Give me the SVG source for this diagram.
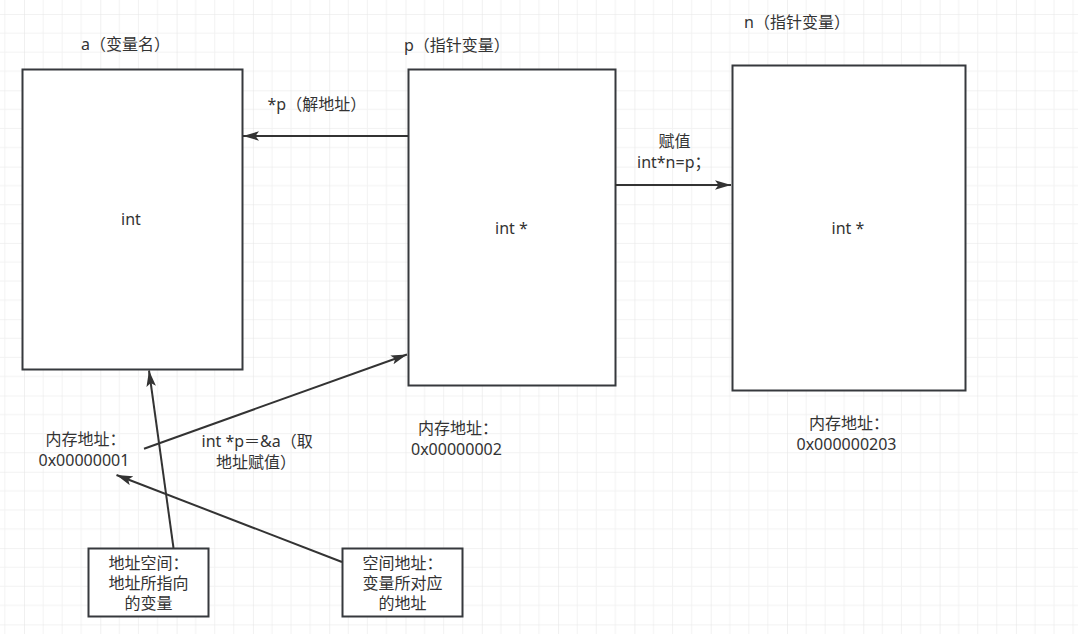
<svg xmlns="http://www.w3.org/2000/svg" width="1078" height="634" viewBox="0 0 1078 634">
  <style>
    .box { fill: #ffffff; stroke: #36393d; stroke-width: 2; }
    .edge { fill: none; stroke: #333333; stroke-width: 2; }
    text { font-family: "Noto Sans", "Noto Sans CJK SC", sans-serif; font-size: 16px; fill: #333333; }
    .c { text-anchor: middle; }
  </style>
  <defs>
    <pattern id="grid" patternUnits="userSpaceOnUse" x="24" y="14" width="76.3" height="76.3">
      <path d="M19.075 0V76.3M38.15 0V76.3M57.225 0V76.3M0 19.075H76.3M0 38.15H76.3M0 57.225H76.3" stroke="#f2f2f2" stroke-width="1" fill="none"/>
      <path d="M0 0V76.3M0 0H76.3" stroke="#e6e6e6" stroke-width="1.2" fill="none"/>
    </pattern>
    <marker id="arrow" markerUnits="userSpaceOnUse" markerWidth="17" markerHeight="11" refX="16" refY="4.75" orient="auto">
      <path d="M0,0 L16,4.75 L0,9.5 L3.5,4.75 Z" fill="#333333"/>
    </marker>
  </defs>

  <rect width="1078" height="634" fill="#ffffff"/>
  <rect width="1078" height="634" fill="url(#grid)"/>

  <g id="node-a">
    <rect class="box" x="22.5" y="69.5" width="220" height="300"/>
    <text x="121" y="225">int</text>
  </g>
  <g id="node-p">
    <rect class="box" x="408.5" y="69.5" width="207" height="316"/>
    <text x="495" y="234">int *</text>
  </g>
  <g id="node-n">
    <rect class="box" x="732.5" y="65.5" width="233" height="325"/>
    <text x="831.5" y="234">int *</text>
  </g>
  <g id="node-space">
    <rect class="box" x="88.5" y="548.5" width="120" height="68"/>
    <text class="c" x="148.5" y="569">地址空间：</text>
    <text class="c" x="148.5" y="589">地址所指向</text>
    <text class="c" x="148.5" y="609">的变量</text>
  </g>
  <g id="node-addr">
    <rect class="box" x="342.5" y="548.5" width="120" height="68"/>
    <text class="c" x="402.5" y="569">空间地址：</text>
    <text class="c" x="402.5" y="589">变量所对应</text>
    <text class="c" x="402.5" y="609">的地址</text>
  </g>

  <g id="labels">
    <text x="81" y="50">a（变量名）</text>
    <text x="404" y="51">p（指针变量）</text>
    <text x="744" y="27.5">n（指针变量）</text>
    <text x="45.5" y="445">内存地址：</text>
    <text x="38.5" y="465.5">0x00000001</text>
    <text x="418" y="434">内存地址：</text>
    <text x="411" y="454.5">0x00000002</text>
    <text x="809" y="429">内存地址：</text>
    <text x="796.5" y="449.5">0x000000203</text>
  </g>

  <g id="connectors">
    <path class="edge" d="M408 136 H243" marker-end="url(#arrow)"/>
    <text x="267.5" y="110">*p（解地址）</text>
    <path class="edge" d="M615 185 H731" marker-end="url(#arrow)"/>
    <text x="658.5" y="147">赋值</text>
    <text x="637" y="167.5">int*n=p；</text>
    <path class="edge" d="M144 448.7 L407 354.5" marker-end="url(#arrow)"/>
    <text x="201.5" y="447">int *p＝&amp;a（取</text>
    <text x="216" y="467.5">地址赋值）</text>
    <path class="edge" d="M173.5 548 L149 370.5" marker-end="url(#arrow)"/>
    <path class="edge" d="M342 562 L116.5 475" marker-end="url(#arrow)"/>
  </g>
</svg>
